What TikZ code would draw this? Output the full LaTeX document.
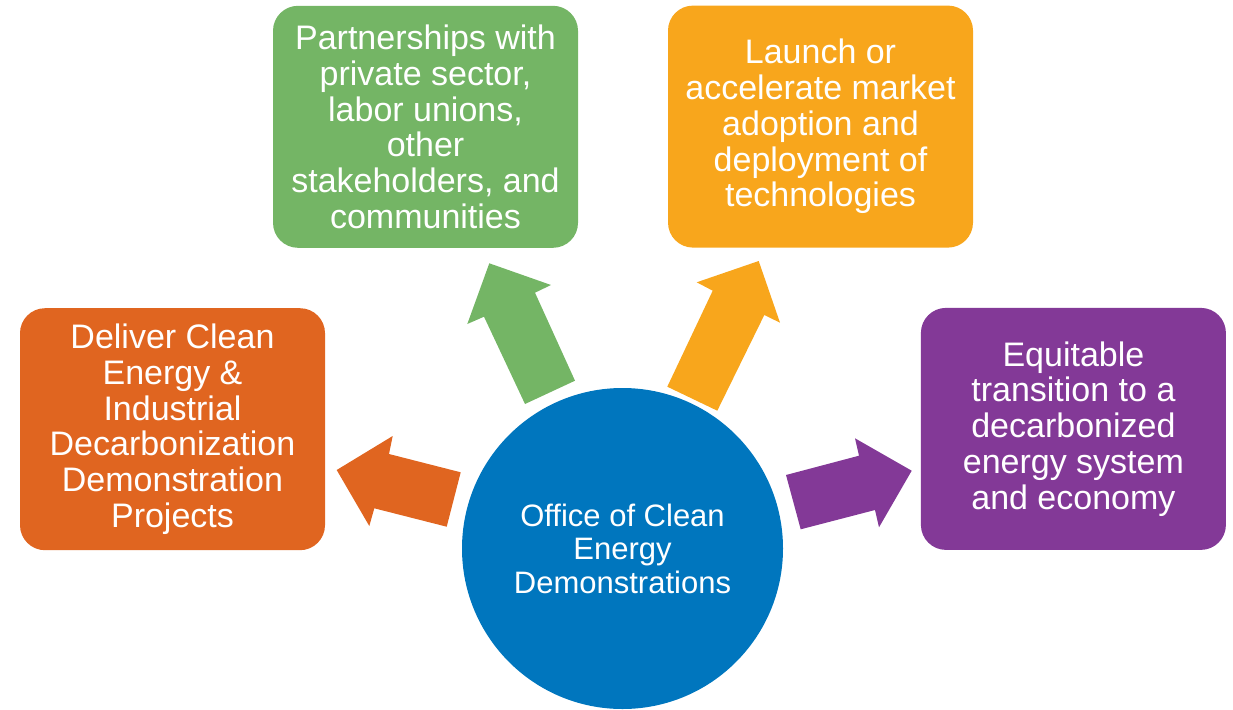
\documentclass[tikz,border=0pt]{standalone}
\usepackage{fontspec}
\setmainfont{Liberation Sans}
\definecolor{cOrange}{RGB}{224,101,32}
\definecolor{cGreen}{RGB}{116,181,101}
\definecolor{cYellow}{RGB}{248,166,28}
\definecolor{cPurple}{RGB}{131,57,151}
\definecolor{cBlue}{RGB}{0,118,190}
\tikzset{
  box/.style={rounded corners=25pt, minimum width=305pt, minimum height=242pt,
    inner sep=0pt, align=center, text=white,
    font=\fontsize{34}{35.7}\selectfont},
  hub/.style={circle, fill=cBlue, minimum size=321pt, inner sep=0pt,
    align=center, text=white, font=\fontsize{31}{33.5}\selectfont},
}
\begin{document}
\begin{tikzpicture}[x=1pt,y=-1pt]
\useasboundingbox (0,0) rectangle (1233,709);
% boxes
\node[box, fill=cGreen] (green) at (425.5,126.8)
  {Partnerships with\\private sector,\\labor unions,\\other\\stakeholders, and\\communities};
\node[box, fill=cYellow] (yellow) at (820.5,126.6)
  {Launch or\\accelerate market\\adoption and\\deployment of\\technologies};
\node[box, fill=cOrange] (orange) at (172.5,429.2)
  {Deliver Clean\\Energy \&\\Industrial\\Decarbonization\\Demonstration\\Projects};
\node[box, fill=cPurple] (purple) at (1073.4,428.9)
  {Equitable\\transition to a\\decarbonized\\energy system\\and economy};
% hub
\node[hub] (hub) at (622.5,548.5) {Office of Clean\\Energy\\Demonstrations};
% block arrows
\fill[cOrange] (336.7,470) -- (392.7,436) -- (389,454) -- (460.7,472.3)
  -- (446.7,526.7) -- (374.3,508.3) -- (369.3,526) -- cycle;
\fill[cGreen] (489.3,263.3) -- (551,285) -- (535,292.7) -- (575,380.7)
  -- (525,404) -- (484,316.7) -- (467.3,324) -- cycle;
\fill[cYellow] (758.7,261) -- (780,322.7) -- (764.3,315) -- (717.3,410.7)
  -- (667.3,386.7) -- (712.7,290.7) -- (696.7,282.3) -- cycle;
\fill[cPurple] (911.7,470.7) -- (855,438.3) -- (859,455.7) -- (786,475)
  -- (800.7,529.3) -- (875,510) -- (879,527.3) -- cycle;
\end{tikzpicture}
\end{document}
